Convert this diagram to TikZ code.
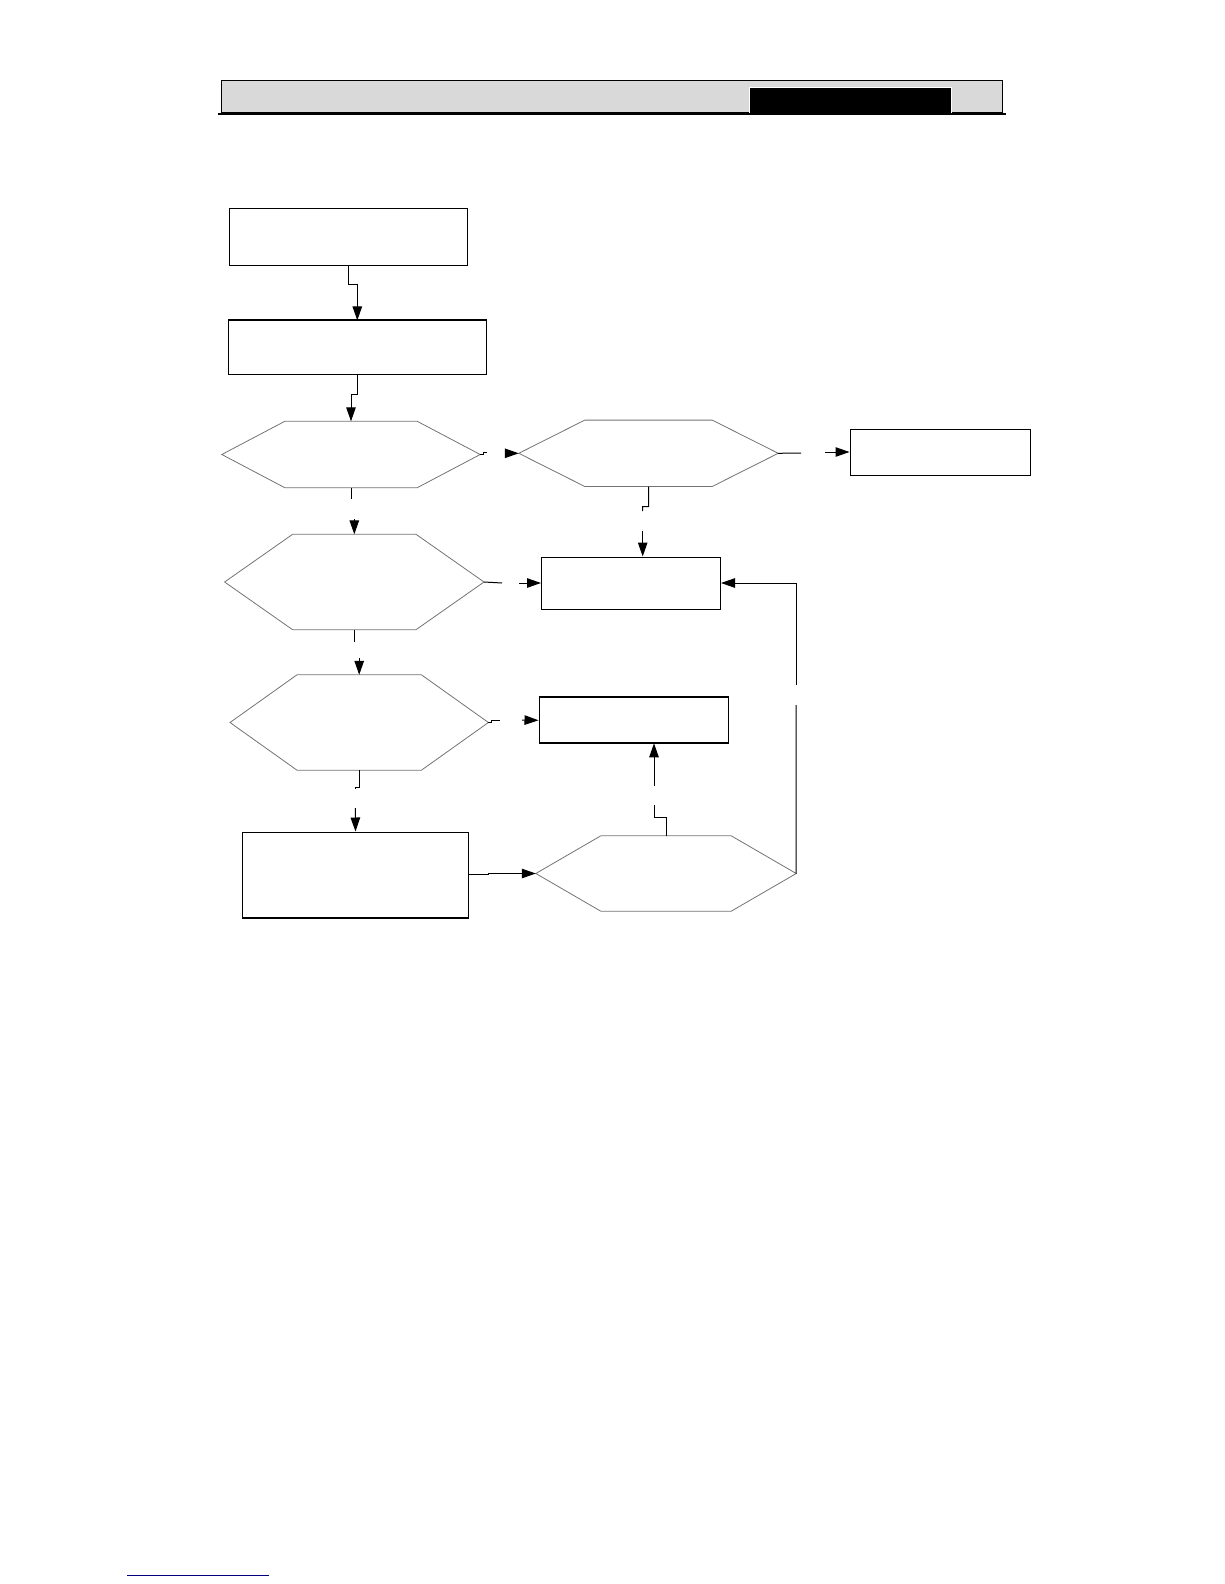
\documentclass[tikz,border=0pt]{standalone}
\usetikzlibrary{arrows.meta}

% hexagon outline drawn around a named (invisible) node
\newcommand{\hexout}[2]{%
  \draw[hexline] (#1.west) -- ([xshift=#2]#1.north west) -- ([xshift=-#2]#1.north east)
    -- (#1.east) -- ([xshift=-#2]#1.south east) -- ([xshift=#2]#1.south west) -- cycle;}

\begin{document}
\begin{tikzpicture}[
  x=1pt, y=-1pt,
  box/.style={draw, line width=1pt, inner sep=0pt},
  hexa/.style={inner sep=0pt},
  hexline/.style={draw=black!55, line width=0.8pt},
  link/.style={line width=1pt},
  arrow/.style={-{Triangle[length=14pt,width=9.5pt]}, line width=1pt}
]
\useasboundingbox (0,0) rectangle (1224,1584);

% page header
\draw[fill=black!15, line width=0.8pt] (221.5,80.5) rectangle (1002,112);
\fill[black] (749.5,87) rectangle (951.5,115.5);
\draw[white, line width=0.8pt] (749.5,115.5) -- (749.5,87) -- (951.5,87) -- (951.5,115.5);
\draw[line width=1.3pt] (218,114) -- (1006,114);

% boxes
\node[box, minimum width=238pt, minimum height=57pt] (start) at (348.3,236.8) {};
\node[box, minimum width=258pt, minimum height=54pt] (init) at (357.3,347.9) {};
\node[box, minimum width=180pt, minimum height=46pt] (done) at (940,452) {};
\node[box, minimum width=179pt, minimum height=52pt] (fault) at (631,583) {};
\node[box, minimum width=189pt, minimum height=45pt] (repair) at (633.5,720.3) {};
\node[box, minimum width=226pt, minimum height=85pt] (check) at (355.5,874.5) {};
\draw[line width=2pt] (init.north west) -- (init.north east);
\draw[line width=2pt] (repair.north west) -- (repair.north east);
\draw[line width=2pt] (repair.south west) -- (repair.south east);
\draw[line width=2pt] (check.south west) -- (check.south east);

% decisions
\node[hexa, minimum width=258pt, minimum height=66pt] (testa) at (351,454.5) {};
\node[hexa, minimum width=259pt, minimum height=66pt] (testb) at (648.5,453.3) {};
\node[hexa, minimum width=259pt, minimum height=95pt] (testc) at (354.3,582) {};
\node[hexa, minimum width=258pt, minimum height=95pt] (testd) at (359.2,722.5) {};
\node[hexa, minimum width=260pt, minimum height=75pt] (teste) at (666,873.5) {};
\hexout{testa}{63pt}
\hexout{testb}{66pt}
\hexout{testc}{68pt}
\hexout{testd}{67pt}
\hexout{teste}{65pt}

% loose ends where the labels sit
\coordinate (aout) at (487,452.5);
\coordinate (bin) at (510,453.3);
\coordinate (bout) at (801,453);
\coordinate (donein) at (825,452);
\coordinate (bdown) at (642.7,511);
\coordinate (faultin) at (642.7,531);
\coordinate (adown) at (351,499);
\coordinate (cin) at (354.3,519);
\coordinate (cout) at (502,583);
\coordinate (faultl) at (519,583);
\coordinate (cdown) at (354.3,642);
\coordinate (din) at (359.2,658);
\coordinate (dout) at (499.5,720);
\coordinate (repairin) at (522,720);
\coordinate (ddown) at (355.3,788);
\coordinate (checkin) at (355.3,808);
\coordinate (eup) at (654,805);
\coordinate (repairup) at (654,786);
\coordinate (eright) at (796,705);
\coordinate (backup) at (796,685);

% connectors
\draw[arrow] (start.south) -- ++(0,19) -| (init.north);
\draw[arrow] (init.south) -- ++(0,19) -| (testa.north);

\draw[link] (testa.east) -- ++(3,0) -- ++(0,-2) -- (aout);
\draw[arrow] (bin) -- (testb.west);
\draw[link] (testb.east) -- (bout);
\draw[arrow] (donein) -- (done.west);
\draw[link] (testb.south) |- ++(-6,20) -- (bdown);
\draw[arrow] (faultin) -- (faultin |- fault.north);

\draw[link] (testa.south) -- (adown);
\draw[arrow] (cin) -- (testc.north);
\draw[link] (testc.east) -- (cout);
\draw[arrow] (faultl) -- (fault.west);

\draw[link] (testc.south) -- (cdown);
\draw[arrow] (din) -- (testd.north);
\draw[link] (testd.east) -- ++(3,0) -- ++(0,-2.5) -- (dout);
\draw[arrow] (repairin) -- (repair.west);

\draw[link] (testd.south) -- ++(0,17.5) -| (ddown);
\draw[arrow] (checkin) -- (check.north);
\draw[arrow] (check.east) -- ++(19,0) |- (teste.west);

\draw[link] (teste.north) -- ++(0,-18) -| (eup);
\draw[arrow] (repairup) -- (repairup |- repair.south);
\draw[link] (teste.east) -- (eright);
\draw[arrow] (backup) |- (fault.east);

% footer link
\draw[blue!50!black, line width=1pt] (127,1575) -- (269,1575);

\end{tikzpicture}
\end{document}
